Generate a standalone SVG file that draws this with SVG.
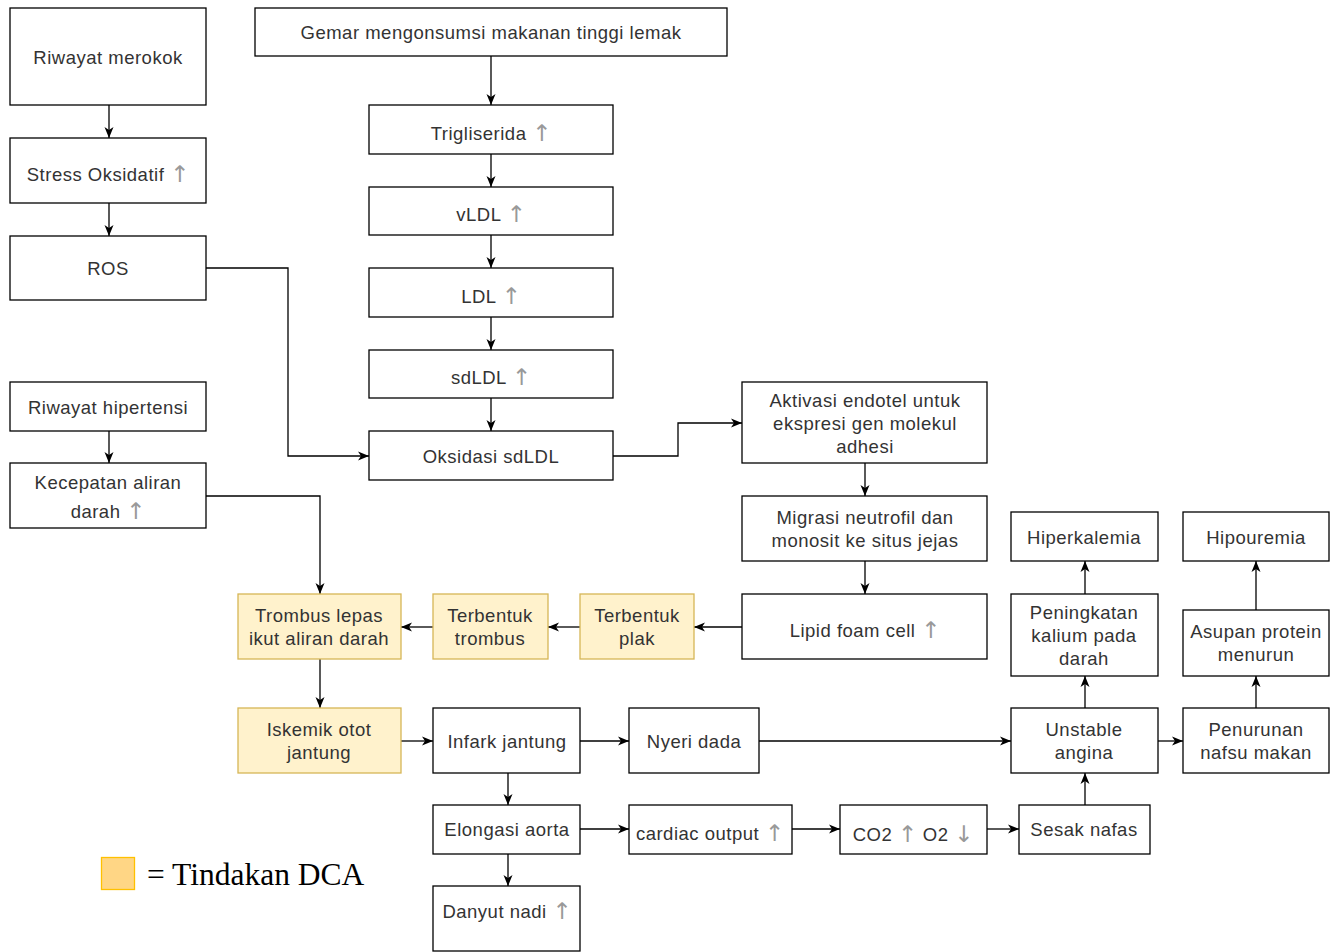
<svg xmlns="http://www.w3.org/2000/svg" width="1338" height="952" viewBox="0 0 1338 952">
<style>
.b{fill:#fff;stroke:#000;stroke-width:1.3}
.y{fill:#fff2cc;stroke:#d6b656;stroke-width:1.3}
text{font-family:"Liberation Sans",Arial,sans-serif;font-size:18.5px;letter-spacing:0.5px;fill:#333;text-anchor:middle;dominant-baseline:central}
.u{fill:#999;font-family:"DejaVu Sans",sans-serif;font-size:23px;letter-spacing:0}
.c{fill:none;stroke:#000;stroke-width:1.3;marker-end:url(#a)}
</style>
<defs>
<marker id="a" markerUnits="userSpaceOnUse" markerWidth="12" markerHeight="10" refX="11" refY="5" orient="auto">
<path d="M0,0.5 L11,5 L0,9.5 L3,5 z" fill="#000"/>
</marker>
</defs>
<rect width="1338" height="952" fill="#fff"/>
<g id="connectors">
<path class="c" d="M109,105 V138"/>
<path class="c" d="M109,203 V236"/>
<path class="c" d="M109,431 V463"/>
<path class="c" d="M491,56 V105"/>
<path class="c" d="M491,154 V187"/>
<path class="c" d="M491,235 V268"/>
<path class="c" d="M491,317 V350"/>
<path class="c" d="M491,398 V431"/>
<path class="c" d="M206,268 H288 V456 H369"/>
<path class="c" d="M613,456 H678 V423 H742"/>
<path class="c" d="M206,496 H320 V594"/>
<path class="c" d="M865,463 V496"/>
<path class="c" d="M865,561 V594"/>
<path class="c" d="M742,627 H694"/>
<path class="c" d="M580,627 H548"/>
<path class="c" d="M433,627 H401"/>
<path class="c" d="M320,659 V708"/>
<path class="c" d="M401,741 H433"/>
<path class="c" d="M580,741 H629"/>
<path class="c" d="M759,741 H1011"/>
<path class="c" d="M1158,741 H1183"/>
<path class="c" d="M1085,708 V676"/>
<path class="c" d="M1085,594 V561"/>
<path class="c" d="M1256,708 V676"/>
<path class="c" d="M1256,610 V561"/>
<path class="c" d="M508,773 V805"/>
<path class="c" d="M508,854 V886"/>
<path class="c" d="M580,829 H629"/>
<path class="c" d="M792,829 H840"/>
<path class="c" d="M987,829 H1019"/>
<path class="c" d="M1085,805 V773"/>
</g>
<g id="n-merokok"><rect class="b" x="10" y="8" width="196" height="97"/><text x="108" y="57">Riwayat merokok</text></g>
<g id="n-stress"><rect class="b" x="10" y="138" width="196" height="65"/><text x="108" y="174">Stress Oksidatif <tspan class="u">↑</tspan></text></g>
<g id="n-ros"><rect class="b" x="10" y="236" width="196" height="64"/><text x="108" y="268">ROS</text></g>
<g id="n-hipertensi"><rect class="b" x="10" y="382" width="196" height="49"/><text x="108" y="407">Riwayat hipertensi</text></g>
<g id="n-kecepatan"><rect class="b" x="10" y="463" width="196" height="65"/><text x="108" y="482">Kecepatan aliran</text><text x="108" y="511">darah <tspan class="u">↑</tspan></text></g>
<g id="n-gemar"><rect class="b" x="255" y="8" width="472" height="48"/><text x="491" y="32">Gemar mengonsumsi makanan tinggi lemak</text></g>
<g id="n-trig"><rect class="b" x="369" y="105" width="244" height="49"/><text x="491" y="133">Trigliserida <tspan class="u">↑</tspan></text></g>
<g id="n-vldl"><rect class="b" x="369" y="187" width="244" height="48"/><text x="491" y="214">vLDL <tspan class="u">↑</tspan></text></g>
<g id="n-ldl"><rect class="b" x="369" y="268" width="244" height="49"/><text x="491" y="296">LDL <tspan class="u">↑</tspan></text></g>
<g id="n-sdldl"><rect class="b" x="369" y="350" width="244" height="48"/><text x="491" y="377">sdLDL <tspan class="u">↑</tspan></text></g>
<g id="n-oks"><rect class="b" x="369" y="431" width="244" height="49"/><text x="491" y="456">Oksidasi sdLDL</text></g>
<g id="n-aktivasi"><rect class="b" x="742" y="382" width="245" height="81"/><text x="865" y="400">Aktivasi endotel untuk</text><text x="865" y="423">ekspresi gen molekul</text><text x="865" y="446">adhesi</text></g>
<g id="n-migrasi"><rect class="b" x="742" y="496" width="245" height="65"/><text x="865" y="517">Migrasi neutrofil dan</text><text x="865" y="540">monosit ke situs jejas</text></g>
<g id="n-lipid"><rect class="b" x="742" y="594" width="245" height="65"/><text x="865" y="630">Lipid foam cell <tspan class="u">↑</tspan></text></g>
<g id="n-plak"><rect class="y" x="580" y="594" width="114" height="65"/><text x="637" y="615">Terbentuk</text><text x="637" y="638">plak</text></g>
<g id="n-trombus"><rect class="y" x="433" y="594" width="115" height="65"/><text x="490" y="615">Terbentuk</text><text x="490" y="638">trombus</text></g>
<g id="n-lepas"><rect class="y" x="238" y="594" width="163" height="65"/><text x="319" y="615">Trombus lepas</text><text x="319" y="638">ikut aliran darah</text></g>
<g id="n-iskemik"><rect class="y" x="238" y="708" width="163" height="65"/><text x="319" y="729">Iskemik otot</text><text x="319" y="752">jantung</text></g>
<g id="n-infark"><rect class="b" x="433" y="708" width="147" height="65"/><text x="507" y="741">Infark jantung</text></g>
<g id="n-nyeri"><rect class="b" x="629" y="708" width="130" height="65"/><text x="694" y="741">Nyeri dada</text></g>
<g id="n-unstable"><rect class="b" x="1011" y="708" width="147" height="65"/><text x="1084" y="729">Unstable</text><text x="1084" y="752">angina</text></g>
<g id="n-penurunan"><rect class="b" x="1183" y="708" width="146" height="65"/><text x="1256" y="729">Penurunan</text><text x="1256" y="752">nafsu makan</text></g>
<g id="n-kalium"><rect class="b" x="1011" y="594" width="147" height="82"/><text x="1084" y="612">Peningkatan</text><text x="1084" y="635">kalium pada</text><text x="1084" y="658">darah</text></g>
<g id="n-asupan"><rect class="b" x="1183" y="610" width="146" height="66"/><text x="1256" y="631">Asupan protein</text><text x="1256" y="654">menurun</text></g>
<g id="n-hiperkalemia"><rect class="b" x="1011" y="512" width="147" height="49"/><text x="1084" y="537">Hiperkalemia</text></g>
<g id="n-hipouremia"><rect class="b" x="1183" y="512" width="146" height="49"/><text x="1256" y="537">Hipouremia</text></g>
<g id="n-elongasi"><rect class="b" x="433" y="805" width="147" height="49"/><text x="507" y="829">Elongasi aorta</text></g>
<g id="n-danyut"><rect class="b" x="433" y="886" width="147" height="65"/><text x="507" y="911">Danyut nadi <tspan class="u">↑</tspan></text></g>
<g id="n-cardiac"><rect class="b" x="629" y="805" width="163" height="49"/><text x="710" y="833">cardiac output <tspan class="u">↑</tspan></text></g>
<g id="n-co2"><rect class="b" x="840" y="805" width="147" height="49"/><text x="913" y="834">CO2 <tspan class="u">↑</tspan> O2 <tspan class="u">↓</tspan></text></g>
<g id="n-sesak"><rect class="b" x="1019" y="805" width="131" height="49"/><text x="1084" y="829">Sesak nafas</text></g>
<g id="legend"><rect x="101.5" y="857.5" width="33" height="32" fill="#ffd685" stroke="#ffc000" stroke-width="1.3"/><text x="147" y="874" style="font-family:'Liberation Serif','Times New Roman',serif;font-size:31.5px;letter-spacing:0;fill:#000;text-anchor:start">= Tindakan DCA</text></g>
</svg>
